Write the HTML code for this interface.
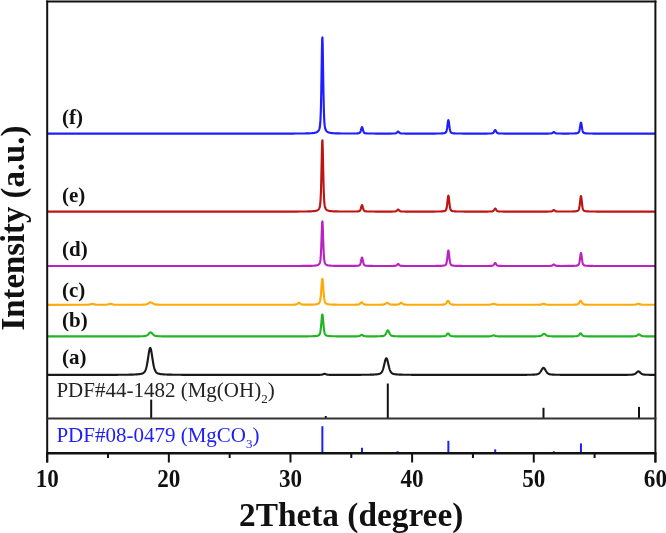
<!DOCTYPE html>
<html><head><meta charset="utf-8"><style>
html,body{margin:0;padding:0;background:#fff;}
svg{display:block;will-change:transform;filter:blur(0.4px);}
text{font-family:"Liberation Serif",serif;}
</style></head><body>
<svg width="666" height="533" viewBox="0 0 666 533">
<rect width="666" height="533" fill="#fff"/>
<g fill="none" stroke-width="2.15" stroke-linejoin="round" stroke-linecap="butt">
<path d="M47.20 133.60 L254.95 133.59 L274.70 133.58 L283.70 133.57 L289.20 133.56 L292.95 133.55 L295.70 133.53 L297.95 133.52 L299.70 133.51 L301.20 133.50 L302.45 133.48 L303.70 133.47 L304.70 133.45 L305.70 133.43 L306.45 133.42 L307.20 133.40 L307.95 133.38 L308.70 133.35 L309.45 133.32 L309.95 133.30 L310.45 133.28 L310.95 133.25 L311.45 133.21 L311.95 133.18 L312.45 133.13 L312.95 133.08 L313.45 133.02 L313.95 132.96 L314.45 132.87 L314.95 132.77 L315.45 132.65 L315.95 132.50 L316.20 132.41 L316.45 132.31 L316.70 132.20 L316.95 132.07 L317.20 131.93 L317.45 131.76 L317.70 131.56 L317.95 131.34 L318.20 131.07 L318.45 130.75 L318.70 130.38 L318.95 129.91 L319.20 129.34 L319.45 128.58 L319.70 127.55 L319.95 126.03 L320.20 123.70 L320.45 120.06 L320.70 114.46 L320.95 106.23 L321.20 94.92 L321.45 80.63 L321.70 64.44 L321.95 48.95 L322.20 38.51 L322.45 37.46 L322.70 46.33 L322.95 61.21 L323.20 77.53 L323.45 92.32 L323.70 104.25 L323.95 113.06 L324.20 119.13 L324.45 123.10 L324.70 125.65 L324.95 127.29 L325.20 128.41 L325.45 129.20 L325.70 129.81 L325.95 130.29 L326.20 130.68 L326.45 131.01 L326.70 131.28 L326.95 131.52 L327.20 131.72 L327.45 131.89 L327.70 132.04 L327.95 132.17 L328.20 132.29 L328.45 132.39 L328.95 132.56 L329.45 132.70 L329.95 132.81 L330.45 132.90 L330.95 132.98 L331.45 133.05 L331.95 133.10 L332.45 133.15 L332.95 133.19 L333.45 133.22 L333.95 133.25 L334.45 133.28 L334.95 133.31 L335.45 133.33 L335.95 133.35 L336.70 133.37 L337.45 133.39 L338.20 133.41 L338.95 133.43 L339.95 133.44 L340.95 133.46 L342.20 133.47 L343.70 133.49 L345.45 133.50 L348.20 133.51 L353.70 133.50 L354.95 133.48 L355.95 133.45 L356.70 133.43 L357.45 133.38 L357.95 133.34 L358.45 133.28 L358.70 133.24 L358.95 133.18 L359.20 133.10 L359.45 132.99 L359.70 132.82 L359.95 132.56 L360.20 132.20 L360.45 131.68 L360.70 131.01 L360.95 130.17 L361.20 129.22 L361.45 128.26 L361.70 127.47 L361.95 127.08 L362.20 127.24 L362.45 127.88 L362.70 128.80 L362.95 129.77 L363.20 130.67 L363.45 131.42 L363.70 132.00 L363.95 132.43 L364.20 132.72 L364.45 132.93 L364.70 133.06 L364.95 133.16 L365.20 133.22 L365.45 133.27 L365.95 133.34 L366.45 133.39 L366.95 133.42 L367.45 133.45 L367.95 133.47 L368.70 133.49 L369.45 133.51 L370.45 133.52 L371.70 133.54 L373.45 133.55 L376.20 133.56 L383.20 133.57 L390.45 133.56 L392.20 133.54 L393.20 133.53 L393.95 133.51 L394.70 133.47 L395.45 133.38 L395.70 133.32 L395.95 133.24 L396.20 133.13 L396.45 132.98 L396.70 132.78 L396.95 132.55 L397.45 132.02 L397.70 131.78 L397.95 131.62 L398.20 131.59 L398.45 131.70 L398.70 131.91 L399.20 132.44 L399.45 132.68 L399.70 132.89 L399.95 133.06 L400.20 133.19 L400.45 133.29 L400.70 133.36 L400.95 133.40 L401.45 133.46 L401.95 133.49 L402.45 133.51 L403.20 133.53 L404.20 133.55 L405.45 133.56 L407.70 133.57 L416.45 133.58 L429.70 133.57 L433.20 133.56 L435.45 133.55 L436.95 133.53 L438.20 133.52 L439.20 133.50 L439.95 133.48 L440.70 133.46 L441.45 133.43 L441.95 133.40 L442.45 133.37 L442.95 133.33 L443.45 133.28 L443.95 133.20 L444.45 133.10 L444.70 133.04 L444.95 132.96 L445.20 132.85 L445.45 132.71 L445.70 132.51 L445.95 132.22 L446.20 131.78 L446.45 131.13 L446.70 130.21 L446.95 128.97 L447.20 127.38 L447.45 125.49 L447.70 123.47 L447.95 121.61 L448.20 120.36 L448.45 120.16 L448.70 121.08 L448.95 122.78 L449.20 124.79 L449.45 126.74 L449.70 128.45 L449.95 129.82 L450.20 130.85 L450.45 131.58 L450.70 132.08 L450.95 132.42 L451.20 132.65 L451.45 132.81 L451.70 132.93 L451.95 133.01 L452.20 133.08 L452.70 133.19 L453.20 133.26 L453.70 133.32 L454.20 133.36 L454.70 133.40 L455.20 133.43 L455.70 133.45 L456.20 133.46 L456.95 133.49 L457.70 133.50 L458.70 133.52 L459.95 133.53 L461.45 133.55 L463.45 133.56 L466.70 133.57 L486.70 133.56 L488.20 133.54 L489.20 133.52 L489.95 133.50 L490.70 133.47 L491.45 133.42 L491.95 133.37 L492.20 133.32 L492.45 133.26 L492.70 133.16 L492.95 133.03 L493.20 132.85 L493.45 132.61 L493.70 132.29 L493.95 131.90 L494.20 131.45 L494.45 130.98 L494.70 130.54 L494.95 130.21 L495.20 130.09 L495.45 130.21 L495.70 130.54 L495.95 130.98 L496.20 131.45 L496.45 131.90 L496.70 132.29 L496.95 132.61 L497.20 132.85 L497.45 133.03 L497.70 133.16 L497.95 133.26 L498.20 133.32 L498.45 133.37 L498.95 133.42 L499.45 133.46 L499.95 133.49 L500.45 133.50 L501.20 133.52 L501.95 133.54 L502.95 133.55 L504.45 133.56 L506.95 133.58 L512.70 133.59 L545.95 133.57 L547.95 133.56 L549.20 133.54 L550.20 133.51 L550.95 133.46 L551.20 133.43 L551.45 133.38 L551.70 133.32 L551.95 133.23 L552.20 133.11 L552.45 132.95 L552.70 132.77 L553.20 132.38 L553.45 132.20 L553.70 132.10 L553.95 132.10 L554.20 132.20 L554.45 132.37 L554.95 132.76 L555.20 132.95 L555.45 133.10 L555.70 133.22 L555.95 133.31 L556.20 133.38 L556.45 133.42 L556.95 133.48 L557.45 133.51 L557.95 133.52 L558.70 133.54 L559.95 133.55 L562.95 133.56 L568.20 133.55 L569.95 133.54 L571.20 133.53 L572.20 133.51 L573.20 133.49 L573.95 133.46 L574.70 133.43 L575.20 133.40 L575.70 133.37 L576.20 133.32 L576.70 133.25 L577.20 133.16 L577.45 133.10 L577.70 133.03 L577.95 132.92 L578.20 132.78 L578.45 132.57 L578.70 132.26 L578.95 131.80 L579.20 131.13 L579.45 130.21 L579.70 129.02 L579.95 127.55 L580.20 125.92 L580.45 124.32 L580.70 123.09 L580.95 122.60 L581.20 123.04 L581.45 124.25 L581.70 125.84 L581.95 127.47 L582.20 128.95 L582.45 130.16 L582.70 131.09 L582.95 131.77 L583.20 132.24 L583.45 132.56 L583.70 132.77 L583.95 132.92 L584.20 133.02 L584.45 133.10 L584.70 133.16 L585.20 133.25 L585.70 133.32 L586.20 133.37 L586.70 133.40 L587.20 133.43 L587.70 133.46 L588.20 133.47 L588.95 133.50 L589.70 133.51 L590.70 133.53 L591.95 133.54 L593.45 133.56 L595.70 133.57 L599.20 133.58 L606.95 133.59 L655.20 133.60" stroke="#1e1eff"/>
<path d="M47.20 211.60 L263.45 211.59 L280.95 211.58 L288.95 211.57 L293.70 211.56 L296.95 211.55 L299.45 211.53 L301.45 211.52 L302.95 211.51 L304.45 211.49 L305.70 211.48 L306.70 211.46 L307.70 211.44 L308.45 211.42 L309.20 211.40 L309.95 211.38 L310.70 211.35 L311.20 211.33 L311.70 211.30 L312.20 211.27 L312.70 211.24 L313.20 211.19 L313.70 211.15 L314.20 211.09 L314.70 211.02 L315.20 210.94 L315.70 210.84 L316.20 210.72 L316.70 210.56 L316.95 210.46 L317.20 210.36 L317.45 210.23 L317.70 210.09 L317.95 209.92 L318.20 209.72 L318.45 209.49 L318.70 209.21 L318.95 208.86 L319.20 208.43 L319.45 207.88 L319.70 207.11 L319.95 205.98 L320.20 204.25 L320.45 201.55 L320.70 197.39 L320.95 191.29 L321.20 182.89 L321.45 172.28 L321.70 160.26 L321.95 148.77 L322.20 141.01 L322.45 140.24 L322.70 146.82 L322.95 157.87 L323.20 169.98 L323.45 180.96 L323.70 189.81 L323.95 196.36 L324.20 200.86 L324.45 203.81 L324.70 205.70 L324.95 206.92 L325.20 207.74 L325.45 208.34 L325.70 208.79 L325.95 209.14 L326.20 209.43 L326.45 209.68 L326.70 209.88 L326.95 210.05 L327.20 210.20 L327.45 210.33 L327.70 210.44 L327.95 210.54 L328.45 210.70 L328.95 210.83 L329.45 210.93 L329.95 211.01 L330.45 211.08 L330.95 211.14 L331.45 211.19 L331.95 211.23 L332.45 211.26 L332.95 211.29 L333.45 211.32 L333.95 211.34 L334.45 211.36 L335.20 211.39 L335.95 211.41 L336.70 211.43 L337.45 211.44 L338.45 211.46 L339.45 211.47 L340.70 211.49 L342.20 211.50 L343.95 211.51 L346.70 211.52 L353.45 211.51 L354.70 211.49 L355.70 211.47 L356.45 211.45 L357.20 211.41 L357.70 211.37 L358.20 211.32 L358.70 211.24 L358.95 211.19 L359.20 211.11 L359.45 210.99 L359.70 210.82 L359.95 210.57 L360.20 210.20 L360.45 209.69 L360.70 209.02 L360.95 208.18 L361.20 207.23 L361.45 206.27 L361.70 205.48 L361.95 205.09 L362.20 205.25 L362.45 205.89 L362.70 206.80 L362.95 207.78 L363.20 208.67 L363.45 209.42 L363.70 210.00 L363.95 210.43 L364.20 210.73 L364.45 210.93 L364.70 211.07 L364.95 211.16 L365.20 211.23 L365.45 211.28 L365.95 211.35 L366.45 211.39 L366.95 211.43 L367.45 211.45 L367.95 211.47 L368.70 211.50 L369.45 211.51 L370.45 211.53 L371.70 211.54 L373.45 211.55 L376.20 211.56 L391.70 211.55 L392.95 211.53 L393.95 211.51 L394.70 211.47 L395.45 211.38 L395.70 211.32 L395.95 211.24 L396.20 211.13 L396.45 210.98 L396.70 210.78 L396.95 210.55 L397.45 210.02 L397.70 209.78 L397.95 209.62 L398.20 209.59 L398.45 209.70 L398.70 209.91 L399.20 210.44 L399.45 210.68 L399.70 210.90 L399.95 211.07 L400.20 211.20 L400.45 211.29 L400.70 211.36 L400.95 211.41 L401.45 211.46 L401.95 211.49 L402.45 211.51 L403.20 211.53 L404.20 211.55 L405.45 211.56 L407.70 211.57 L431.70 211.56 L434.20 211.55 L435.95 211.53 L437.20 211.52 L438.20 211.50 L439.20 211.48 L439.95 211.46 L440.70 211.44 L441.45 211.40 L441.95 211.37 L442.45 211.33 L442.95 211.28 L443.45 211.22 L443.95 211.13 L444.20 211.08 L444.45 211.01 L444.70 210.94 L444.95 210.84 L445.20 210.72 L445.45 210.55 L445.70 210.31 L445.95 209.96 L446.20 209.44 L446.45 208.68 L446.70 207.59 L446.95 206.11 L447.20 204.23 L447.45 201.99 L447.70 199.59 L447.95 197.39 L448.20 195.91 L448.45 195.67 L448.70 196.76 L448.95 198.77 L449.20 201.16 L449.45 203.48 L449.70 205.50 L449.95 207.12 L450.20 208.34 L450.45 209.21 L450.70 209.80 L450.95 210.21 L451.20 210.48 L451.45 210.67 L451.70 210.80 L451.95 210.91 L452.20 210.99 L452.45 211.06 L452.95 211.16 L453.45 211.24 L453.95 211.30 L454.45 211.34 L454.95 211.38 L455.45 211.41 L455.95 211.43 L456.45 211.45 L457.20 211.47 L457.95 211.49 L458.70 211.51 L459.70 211.52 L460.95 211.53 L462.45 211.55 L464.70 211.56 L468.20 211.57 L487.20 211.56 L488.70 211.54 L489.70 211.52 L490.45 211.50 L491.20 211.46 L491.70 211.43 L491.95 211.40 L492.20 211.36 L492.45 211.30 L492.70 211.22 L492.95 211.11 L493.20 210.96 L493.45 210.75 L493.70 210.47 L493.95 210.14 L494.20 209.76 L494.45 209.35 L494.70 208.98 L494.95 208.70 L495.20 208.59 L495.45 208.70 L495.70 208.98 L495.95 209.35 L496.20 209.76 L496.45 210.14 L496.70 210.47 L496.95 210.75 L497.20 210.96 L497.45 211.11 L497.70 211.23 L497.95 211.30 L498.20 211.36 L498.45 211.40 L498.95 211.45 L499.45 211.48 L499.95 211.50 L500.70 211.52 L501.45 211.54 L502.45 211.55 L503.95 211.57 L506.45 211.58 L512.70 211.59 L545.20 211.58 L547.45 211.56 L548.70 211.55 L549.70 211.53 L550.45 211.50 L551.20 211.43 L551.45 211.38 L551.70 211.31 L551.95 211.22 L552.20 211.10 L552.45 210.95 L552.70 210.77 L553.20 210.37 L553.45 210.20 L553.70 210.10 L553.95 210.10 L554.20 210.19 L554.45 210.36 L554.95 210.76 L555.20 210.94 L555.45 211.09 L555.70 211.21 L555.95 211.31 L556.20 211.37 L556.45 211.42 L556.95 211.47 L557.45 211.50 L557.95 211.52 L558.70 211.54 L559.95 211.55 L568.20 211.54 L569.70 211.52 L570.95 211.50 L571.95 211.48 L572.70 211.46 L573.45 211.43 L574.20 211.40 L574.70 211.37 L575.20 211.33 L575.70 211.27 L576.20 211.21 L576.70 211.12 L576.95 211.06 L577.20 210.99 L577.45 210.90 L577.70 210.79 L577.95 210.65 L578.20 210.44 L578.45 210.15 L578.70 209.71 L578.95 209.06 L579.20 208.13 L579.45 206.83 L579.70 205.14 L579.95 203.08 L580.20 200.78 L580.45 198.53 L580.70 196.79 L580.95 196.10 L581.20 196.72 L581.45 198.43 L581.70 200.67 L581.95 202.97 L582.20 205.05 L582.45 206.76 L582.70 208.07 L582.95 209.02 L583.20 209.69 L583.45 210.13 L583.70 210.43 L583.95 210.64 L584.20 210.79 L584.45 210.90 L584.70 210.98 L584.95 211.06 L585.45 211.16 L585.95 211.24 L586.45 211.30 L586.95 211.35 L587.45 211.38 L587.95 211.41 L588.45 211.44 L588.95 211.46 L589.70 211.48 L590.45 211.50 L591.20 211.51 L592.20 211.53 L593.45 211.54 L594.95 211.55 L597.20 211.56 L600.45 211.57 L606.45 211.58 L625.95 211.59 L655.20 211.60" stroke="#bd1414"/>
<path d="M47.20 266.00 L274.70 265.99 L289.20 265.98 L295.70 265.97 L299.70 265.96 L302.45 265.94 L304.45 265.93 L305.95 265.92 L307.20 265.91 L308.45 265.89 L309.45 265.87 L310.20 265.85 L310.95 265.83 L311.70 265.81 L312.45 265.78 L312.95 265.76 L313.45 265.73 L313.95 265.70 L314.45 265.66 L314.95 265.61 L315.45 265.56 L315.95 265.49 L316.45 265.40 L316.95 265.29 L317.20 265.22 L317.45 265.14 L317.70 265.05 L317.95 264.95 L318.20 264.82 L318.45 264.68 L318.70 264.50 L318.95 264.29 L319.20 264.02 L319.45 263.67 L319.70 263.19 L319.95 262.49 L320.20 261.41 L320.45 259.72 L320.70 257.12 L320.95 253.30 L321.20 248.05 L321.45 241.42 L321.70 233.91 L321.95 226.73 L322.20 221.88 L322.45 221.40 L322.70 225.51 L322.95 232.41 L323.20 239.98 L323.45 246.85 L323.70 252.38 L323.95 256.47 L324.20 259.28 L324.45 261.13 L324.70 262.31 L324.95 263.07 L325.20 263.59 L325.45 263.96 L325.70 264.24 L325.95 264.46 L326.20 264.64 L326.45 264.80 L326.70 264.92 L326.95 265.03 L327.20 265.12 L327.45 265.20 L327.95 265.34 L328.45 265.44 L328.95 265.52 L329.45 265.58 L329.95 265.63 L330.45 265.67 L330.95 265.71 L331.45 265.74 L331.95 265.76 L332.45 265.79 L332.95 265.80 L333.70 265.83 L334.45 265.85 L335.20 265.86 L336.20 265.88 L337.20 265.89 L338.45 265.91 L339.95 265.92 L342.20 265.93 L352.70 265.92 L353.95 265.90 L354.95 265.88 L355.70 265.85 L356.45 265.82 L356.95 265.79 L357.45 265.75 L357.95 265.69 L358.45 265.61 L358.70 265.55 L358.95 265.48 L359.20 265.37 L359.45 265.22 L359.70 265.00 L359.95 264.67 L360.20 264.19 L360.45 263.52 L360.70 262.64 L360.95 261.54 L361.20 260.30 L361.45 259.04 L361.70 258.01 L361.95 257.50 L362.20 257.71 L362.45 258.55 L362.70 259.74 L362.95 261.02 L363.20 262.19 L363.45 263.17 L363.70 263.93 L363.95 264.49 L364.20 264.88 L364.45 265.14 L364.70 265.32 L364.95 265.44 L365.20 265.53 L365.45 265.59 L365.95 265.68 L366.45 265.74 L366.95 265.79 L367.45 265.82 L367.95 265.85 L368.45 265.87 L369.20 265.89 L369.95 265.91 L370.95 265.92 L372.20 265.94 L373.70 265.95 L375.95 265.96 L380.70 265.97 L390.70 265.96 L392.20 265.95 L393.20 265.93 L393.95 265.91 L394.70 265.87 L395.45 265.78 L395.70 265.72 L395.95 265.64 L396.20 265.53 L396.45 265.38 L396.70 265.19 L396.95 264.95 L397.45 264.42 L397.70 264.18 L397.95 264.03 L398.20 263.99 L398.45 264.10 L398.70 264.31 L399.20 264.84 L399.45 265.09 L399.70 265.30 L399.95 265.47 L400.20 265.60 L400.45 265.69 L400.70 265.76 L400.95 265.81 L401.45 265.86 L401.95 265.90 L402.45 265.91 L403.20 265.93 L404.20 265.95 L405.45 265.96 L407.70 265.97 L431.95 265.96 L434.45 265.95 L436.20 265.93 L437.45 265.92 L438.45 265.90 L439.45 265.88 L440.20 265.86 L440.95 265.83 L441.45 265.81 L441.95 265.78 L442.45 265.74 L442.95 265.69 L443.45 265.63 L443.95 265.55 L444.45 265.43 L444.70 265.36 L444.95 265.27 L445.20 265.15 L445.45 264.98 L445.70 264.75 L445.95 264.42 L446.20 263.91 L446.45 263.17 L446.70 262.12 L446.95 260.68 L447.20 258.86 L447.45 256.69 L447.70 254.37 L447.95 252.23 L448.20 250.80 L448.45 250.57 L448.70 251.62 L448.95 253.58 L449.20 255.88 L449.45 258.13 L449.70 260.09 L449.95 261.66 L450.20 262.84 L450.45 263.68 L450.70 264.26 L450.95 264.65 L451.20 264.91 L451.45 265.10 L451.70 265.23 L451.95 265.33 L452.20 265.41 L452.45 265.48 L452.95 265.58 L453.45 265.65 L453.95 265.71 L454.45 265.75 L454.95 265.79 L455.45 265.81 L455.95 265.84 L456.45 265.86 L457.20 265.88 L457.95 265.90 L458.95 265.91 L459.95 265.93 L461.20 265.94 L462.95 265.95 L465.45 265.96 L469.70 265.97 L486.70 265.96 L488.20 265.95 L489.20 265.93 L490.20 265.91 L490.95 265.88 L491.70 265.83 L491.95 265.80 L492.20 265.76 L492.45 265.70 L492.70 265.63 L492.95 265.51 L493.20 265.36 L493.45 265.15 L493.70 264.88 L493.95 264.54 L494.20 264.16 L494.45 263.75 L494.70 263.38 L494.95 263.10 L495.20 262.99 L495.45 263.10 L495.70 263.38 L495.95 263.75 L496.20 264.16 L496.45 264.54 L496.70 264.88 L496.95 265.15 L497.20 265.36 L497.45 265.51 L497.70 265.63 L497.95 265.70 L498.20 265.76 L498.45 265.80 L498.95 265.85 L499.45 265.88 L499.95 265.90 L500.70 265.92 L501.45 265.94 L502.45 265.95 L503.95 265.97 L506.45 265.98 L512.70 265.99 L545.45 265.98 L547.70 265.96 L548.95 265.95 L549.95 265.92 L550.70 265.88 L551.45 265.78 L551.70 265.71 L551.95 265.62 L552.20 265.50 L552.45 265.35 L552.70 265.17 L553.20 264.77 L553.45 264.60 L553.70 264.50 L553.95 264.50 L554.20 264.60 L554.45 264.76 L554.95 265.16 L555.20 265.34 L555.45 265.50 L555.70 265.62 L555.95 265.71 L556.20 265.77 L556.45 265.82 L556.95 265.88 L557.45 265.91 L557.95 265.92 L558.70 265.94 L559.95 265.95 L569.20 265.94 L570.70 265.92 L571.70 265.91 L572.70 265.88 L573.45 265.86 L574.20 265.83 L574.70 265.80 L575.20 265.77 L575.70 265.73 L576.20 265.67 L576.70 265.59 L577.20 265.49 L577.45 265.41 L577.70 265.32 L577.95 265.20 L578.20 265.03 L578.45 264.78 L578.70 264.42 L578.95 263.87 L579.20 263.09 L579.45 262.00 L579.70 260.58 L579.95 258.86 L580.20 256.93 L580.45 255.04 L580.70 253.58 L580.95 253.00 L581.20 253.52 L581.45 254.95 L581.70 256.83 L581.95 258.76 L582.20 260.50 L582.45 261.94 L582.70 263.04 L582.95 263.84 L583.20 264.39 L583.45 264.77 L583.70 265.02 L583.95 265.19 L584.20 265.32 L584.45 265.41 L584.70 265.48 L585.20 265.59 L585.70 265.67 L586.20 265.73 L586.70 265.77 L587.20 265.80 L587.70 265.83 L588.20 265.85 L588.70 265.87 L589.45 265.89 L590.20 265.91 L591.20 265.92 L592.45 265.94 L593.95 265.95 L595.95 265.96 L599.20 265.98 L605.20 265.99 L627.45 266.00 L655.20 266.00" stroke="#b923bf"/>
<path d="M47.20 304.80 L78.95 304.79 L83.20 304.78 L85.20 304.76 L86.45 304.75 L87.45 304.73 L88.20 304.69 L88.70 304.65 L89.20 304.58 L89.70 304.49 L90.20 304.35 L90.70 304.18 L91.20 304.00 L91.45 303.92 L91.70 303.85 L91.95 303.81 L92.20 303.79 L92.45 303.81 L92.70 303.85 L92.95 303.92 L93.45 304.09 L93.95 304.26 L94.45 304.42 L94.95 304.53 L95.45 304.61 L95.95 304.67 L96.45 304.70 L96.95 304.72 L97.70 304.74 L98.70 304.75 L105.20 304.73 L105.95 304.71 L106.70 304.67 L107.20 304.61 L107.70 304.53 L108.20 304.42 L108.70 304.27 L109.20 304.09 L109.70 303.92 L109.95 303.85 L110.20 303.81 L110.45 303.79 L110.70 303.81 L110.95 303.85 L111.20 303.92 L111.70 304.09 L112.20 304.26 L112.70 304.42 L113.20 304.53 L113.70 304.61 L114.20 304.67 L114.70 304.70 L115.20 304.72 L115.95 304.74 L116.95 304.75 L118.45 304.76 L121.70 304.78 L135.45 304.76 L137.95 304.75 L139.70 304.74 L140.95 304.72 L141.95 304.70 L142.70 304.69 L143.45 304.66 L144.20 304.63 L144.70 304.59 L145.20 304.54 L145.70 304.47 L146.20 304.37 L146.45 304.31 L146.70 304.23 L146.95 304.15 L147.20 304.05 L147.45 303.94 L147.70 303.81 L147.95 303.67 L148.45 303.36 L148.95 303.03 L149.45 302.70 L149.70 302.56 L149.95 302.44 L150.20 302.35 L150.45 302.30 L150.70 302.30 L150.95 302.34 L151.20 302.42 L151.45 302.54 L151.70 302.68 L152.20 303.00 L152.70 303.34 L153.20 303.65 L153.45 303.79 L153.70 303.92 L153.95 304.03 L154.20 304.13 L154.45 304.22 L154.70 304.30 L155.20 304.42 L155.70 304.51 L156.20 304.57 L156.70 304.61 L157.20 304.64 L157.70 304.66 L158.45 304.69 L159.20 304.71 L160.20 304.72 L161.20 304.74 L162.45 304.75 L164.20 304.76 L166.70 304.77 L171.20 304.78 L182.95 304.79 L280.70 304.78 L286.20 304.77 L289.20 304.76 L290.95 304.74 L292.20 304.73 L293.20 304.71 L293.95 304.69 L294.70 304.66 L295.45 304.59 L295.70 304.56 L295.95 304.51 L296.20 304.45 L296.45 304.36 L296.70 304.26 L296.95 304.13 L297.20 303.97 L297.45 303.79 L297.70 303.58 L298.20 303.15 L298.45 302.96 L298.70 302.83 L298.95 302.76 L299.20 302.79 L299.45 302.90 L299.70 303.08 L300.20 303.50 L300.45 303.71 L300.70 303.90 L300.95 304.06 L301.20 304.20 L301.45 304.31 L301.70 304.40 L301.95 304.47 L302.20 304.52 L302.70 304.59 L303.20 304.62 L303.70 304.65 L304.45 304.67 L305.45 304.68 L309.45 304.66 L310.45 304.65 L311.20 304.63 L311.95 304.61 L312.70 304.58 L313.45 304.55 L313.95 304.52 L314.45 304.49 L314.95 304.45 L315.45 304.40 L315.95 304.34 L316.45 304.26 L316.95 304.16 L317.45 304.04 L317.70 303.96 L317.95 303.87 L318.20 303.76 L318.45 303.63 L318.70 303.47 L318.95 303.26 L319.20 302.98 L319.45 302.59 L319.70 302.04 L319.95 301.26 L320.20 300.15 L320.45 298.61 L320.70 296.58 L320.95 294.01 L321.20 290.93 L321.45 287.49 L321.70 284.01 L321.95 281.00 L322.20 279.12 L322.45 278.94 L322.70 280.51 L322.95 283.36 L323.20 286.79 L323.45 290.27 L323.70 293.44 L323.95 296.12 L324.20 298.25 L324.45 299.88 L324.70 301.07 L324.95 301.91 L325.20 302.50 L325.45 302.91 L325.70 303.21 L325.95 303.43 L326.20 303.60 L326.45 303.74 L326.70 303.85 L326.95 303.94 L327.20 304.02 L327.70 304.15 L328.20 304.25 L328.70 304.33 L329.20 304.40 L329.70 304.45 L330.20 304.49 L330.70 304.52 L331.20 304.55 L331.70 304.58 L332.20 304.60 L332.95 304.62 L333.70 304.64 L334.45 304.66 L335.20 304.68 L336.20 304.69 L337.45 304.71 L338.95 304.72 L340.70 304.73 L343.45 304.74 L353.70 304.73 L354.95 304.71 L355.95 304.69 L356.70 304.67 L357.45 304.63 L357.95 304.58 L358.20 304.54 L358.45 304.49 L358.70 304.42 L358.95 304.33 L359.20 304.22 L359.45 304.07 L359.70 303.90 L359.95 303.69 L360.20 303.45 L360.70 302.92 L360.95 302.66 L361.20 302.45 L361.45 302.31 L361.70 302.28 L361.95 302.37 L362.20 302.54 L362.45 302.78 L362.95 303.32 L363.20 303.57 L363.45 303.79 L363.70 303.99 L363.95 304.15 L364.20 304.28 L364.45 304.38 L364.70 304.46 L364.95 304.51 L365.20 304.56 L365.70 304.62 L366.20 304.65 L366.70 304.67 L367.45 304.70 L368.20 304.71 L369.20 304.73 L370.70 304.74 L379.45 304.73 L380.45 304.71 L381.45 304.69 L382.20 304.66 L382.70 304.62 L383.20 304.57 L383.45 304.53 L383.70 304.48 L383.95 304.42 L384.20 304.35 L384.45 304.26 L384.70 304.15 L384.95 304.03 L385.20 303.88 L385.45 303.72 L385.95 303.36 L386.20 303.19 L386.45 303.02 L386.70 302.89 L386.95 302.80 L387.20 302.78 L387.45 302.81 L387.70 302.90 L387.95 303.04 L388.20 303.21 L388.70 303.56 L388.95 303.74 L389.20 303.89 L389.45 304.04 L389.70 304.16 L389.95 304.27 L390.20 304.35 L390.45 304.42 L390.70 304.48 L391.20 304.56 L391.70 304.61 L392.20 304.64 L392.70 304.66 L393.45 304.68 L396.70 304.65 L397.45 304.60 L397.95 304.54 L398.20 304.49 L398.45 304.42 L398.70 304.33 L398.95 304.22 L399.20 304.09 L399.45 303.92 L399.70 303.73 L400.20 303.31 L400.45 303.10 L400.70 302.93 L400.95 302.81 L401.20 302.78 L401.45 302.83 L401.70 302.96 L401.95 303.15 L402.45 303.58 L402.70 303.78 L402.95 303.97 L403.20 304.13 L403.45 304.26 L403.70 304.37 L403.95 304.45 L404.20 304.52 L404.45 304.56 L404.95 304.63 L405.45 304.67 L405.95 304.69 L406.70 304.71 L407.45 304.73 L408.45 304.74 L409.95 304.76 L412.20 304.77 L417.20 304.78 L434.70 304.77 L437.20 304.75 L438.70 304.74 L439.95 304.73 L440.95 304.71 L441.70 304.68 L442.45 304.65 L442.95 304.63 L443.45 304.59 L443.95 304.53 L444.20 304.49 L444.45 304.44 L444.70 304.37 L444.95 304.28 L445.20 304.15 L445.45 303.99 L445.70 303.78 L445.95 303.52 L446.20 303.21 L446.45 302.85 L446.70 302.44 L446.95 302.01 L447.20 301.58 L447.45 301.20 L447.70 300.93 L447.95 300.80 L448.20 300.85 L448.45 301.07 L448.70 301.41 L448.95 301.82 L449.20 302.26 L449.45 302.68 L449.70 303.06 L449.95 303.39 L450.20 303.68 L450.45 303.91 L450.70 304.09 L450.95 304.23 L451.20 304.33 L451.45 304.41 L451.70 304.47 L451.95 304.52 L452.45 304.58 L452.95 304.62 L453.45 304.65 L453.95 304.67 L454.45 304.69 L455.20 304.71 L455.95 304.72 L456.95 304.74 L458.20 304.75 L459.95 304.76 L462.95 304.77 L470.45 304.78 L484.70 304.77 L486.95 304.76 L488.20 304.74 L489.20 304.71 L489.95 304.67 L490.45 304.61 L490.95 304.52 L491.45 304.40 L491.95 304.24 L492.45 304.06 L492.95 303.90 L493.20 303.84 L493.45 303.80 L493.70 303.80 L493.95 303.82 L494.20 303.87 L494.45 303.95 L494.95 304.12 L495.45 304.30 L495.95 304.44 L496.45 304.55 L496.95 304.63 L497.45 304.68 L497.95 304.71 L498.45 304.73 L499.20 304.75 L500.20 304.76 L501.70 304.77 L504.70 304.78 L535.70 304.77 L537.45 304.75 L538.45 304.73 L539.20 304.71 L539.95 304.65 L540.45 304.59 L540.95 304.49 L541.45 304.36 L541.95 304.20 L542.45 304.02 L542.70 303.93 L542.95 303.86 L543.20 303.82 L543.45 303.79 L543.70 303.81 L543.95 303.85 L544.20 303.91 L544.70 304.08 L545.20 304.26 L545.70 304.41 L546.20 304.53 L546.70 304.61 L547.20 304.67 L547.70 304.70 L548.20 304.72 L548.95 304.74 L549.95 304.76 L551.45 304.77 L554.70 304.78 L567.95 304.77 L570.20 304.75 L571.70 304.74 L572.70 304.72 L573.70 304.70 L574.45 304.68 L575.20 304.65 L575.70 304.62 L576.20 304.58 L576.70 304.51 L576.95 304.46 L577.20 304.40 L577.45 304.31 L577.70 304.20 L577.95 304.05 L578.20 303.86 L578.45 303.62 L578.70 303.33 L578.95 302.98 L579.20 302.59 L579.45 302.16 L579.70 301.73 L579.95 301.33 L580.20 301.01 L580.45 300.83 L580.70 300.81 L580.95 300.98 L581.20 301.28 L581.45 301.68 L581.70 302.11 L581.95 302.54 L582.20 302.93 L582.45 303.29 L582.70 303.59 L582.95 303.83 L583.20 304.03 L583.45 304.18 L583.70 304.30 L583.95 304.39 L584.20 304.46 L584.45 304.51 L584.95 304.57 L585.45 304.62 L585.95 304.65 L586.45 304.67 L586.95 304.69 L587.70 304.71 L588.45 304.73 L589.45 304.74 L590.70 304.75 L592.45 304.77 L595.20 304.78 L601.20 304.79 L629.95 304.77 L631.95 304.76 L633.20 304.74 L633.95 304.72 L634.70 304.67 L635.20 304.61 L635.70 304.53 L636.20 304.40 L636.70 304.25 L637.20 304.07 L637.70 303.90 L637.95 303.84 L638.20 303.81 L638.45 303.80 L638.70 303.82 L638.95 303.88 L639.20 303.95 L639.70 304.13 L640.20 304.30 L640.70 304.45 L641.20 304.56 L641.70 304.63 L642.20 304.68 L642.70 304.71 L643.20 304.73 L643.95 304.75 L644.95 304.76 L646.45 304.77 L649.45 304.79 L655.20 304.79" stroke="#ffaa0a"/>
<path d="M47.20 336.40 L117.95 336.39 L127.45 336.38 L131.95 336.37 L134.70 336.35 L136.70 336.34 L138.20 336.33 L139.45 336.31 L140.45 336.29 L141.20 336.27 L141.95 336.25 L142.70 336.22 L143.45 336.19 L143.95 336.15 L144.45 336.10 L144.95 336.04 L145.45 335.94 L145.70 335.88 L145.95 335.81 L146.20 335.72 L146.45 335.62 L146.70 335.50 L146.95 335.36 L147.20 335.20 L147.45 335.02 L147.70 334.82 L147.95 334.60 L148.20 334.36 L148.45 334.11 L148.95 333.57 L149.20 333.30 L149.45 333.05 L149.70 332.82 L149.95 332.62 L150.20 332.49 L150.45 332.41 L150.70 332.41 L150.95 332.47 L151.20 332.60 L151.45 332.78 L151.70 333.01 L151.95 333.26 L152.45 333.80 L152.70 334.07 L152.95 334.32 L153.20 334.56 L153.45 334.79 L153.70 334.99 L153.95 335.18 L154.20 335.34 L154.45 335.48 L154.70 335.60 L154.95 335.71 L155.20 335.80 L155.45 335.87 L155.70 335.93 L156.20 336.03 L156.70 336.10 L157.20 336.15 L157.70 336.18 L158.20 336.21 L158.70 336.23 L159.20 336.25 L159.95 336.27 L160.70 336.29 L161.70 336.31 L162.70 336.32 L163.95 336.33 L165.45 336.35 L167.45 336.36 L170.45 336.37 L175.45 336.38 L187.45 336.39 L292.45 336.38 L298.70 336.37 L302.20 336.36 L304.70 336.35 L306.45 336.33 L307.95 336.32 L309.20 336.30 L310.20 336.29 L311.20 336.27 L311.95 336.25 L312.70 336.22 L313.45 336.19 L313.95 336.17 L314.45 336.14 L314.95 336.11 L315.45 336.06 L315.95 336.01 L316.45 335.95 L316.95 335.86 L317.45 335.76 L317.70 335.69 L317.95 335.61 L318.20 335.52 L318.45 335.41 L318.70 335.27 L318.95 335.10 L319.20 334.86 L319.45 334.54 L319.70 334.07 L319.95 333.41 L320.20 332.47 L320.45 331.17 L320.70 329.45 L320.95 327.27 L321.20 324.66 L321.45 321.76 L321.70 318.81 L321.95 316.26 L322.20 314.67 L322.45 314.52 L322.70 315.85 L322.95 318.26 L323.20 321.17 L323.45 324.11 L323.70 326.79 L323.95 329.05 L324.20 330.86 L324.45 332.24 L324.70 333.24 L324.95 333.96 L325.20 334.46 L325.45 334.81 L325.70 335.06 L325.95 335.24 L326.20 335.39 L326.45 335.50 L326.70 335.60 L326.95 335.68 L327.45 335.80 L327.95 335.90 L328.45 335.97 L328.95 336.03 L329.45 336.08 L329.95 336.12 L330.45 336.15 L330.95 336.18 L331.45 336.20 L331.95 336.22 L332.70 336.24 L333.45 336.26 L334.20 336.28 L335.20 336.30 L336.20 336.31 L337.45 336.32 L339.20 336.33 L341.45 336.35 L345.45 336.36 L354.20 336.34 L355.70 336.33 L356.70 336.31 L357.45 336.28 L358.20 336.23 L358.70 336.16 L358.95 336.11 L359.20 336.04 L359.45 335.95 L359.70 335.85 L359.95 335.72 L360.20 335.58 L360.70 335.26 L360.95 335.10 L361.20 334.97 L361.45 334.89 L361.70 334.88 L361.95 334.93 L362.20 335.03 L362.45 335.17 L362.95 335.49 L363.20 335.65 L363.45 335.78 L363.70 335.90 L363.95 335.99 L364.20 336.07 L364.45 336.13 L364.70 336.18 L365.20 336.24 L365.70 336.27 L366.20 336.29 L366.95 336.31 L367.95 336.32 L369.70 336.34 L375.20 336.32 L376.70 336.31 L377.70 336.29 L378.70 336.27 L379.45 336.25 L380.20 336.22 L380.95 336.19 L381.45 336.16 L381.95 336.12 L382.45 336.07 L382.95 335.99 L383.20 335.94 L383.45 335.88 L383.70 335.80 L383.95 335.70 L384.20 335.57 L384.45 335.41 L384.70 335.21 L384.95 334.96 L385.20 334.66 L385.45 334.30 L385.70 333.89 L385.95 333.43 L386.20 332.92 L386.45 332.38 L386.70 331.84 L386.95 331.33 L387.20 330.89 L387.45 330.57 L387.70 330.40 L387.95 330.43 L388.20 330.64 L388.45 331.00 L388.70 331.46 L388.95 331.98 L389.20 332.53 L389.45 333.06 L389.70 333.55 L389.95 334.00 L390.20 334.40 L390.45 334.74 L390.70 335.03 L390.95 335.27 L391.20 335.46 L391.45 335.61 L391.70 335.73 L391.95 335.83 L392.20 335.90 L392.45 335.96 L392.95 336.05 L393.45 336.11 L393.95 336.15 L394.45 336.18 L394.95 336.21 L395.45 336.23 L395.95 336.25 L396.70 336.27 L397.45 336.29 L398.45 336.31 L399.45 336.32 L400.70 336.34 L402.45 336.35 L404.70 336.36 L408.20 336.37 L415.70 336.38 L435.95 336.37 L438.45 336.36 L439.95 336.34 L440.95 336.33 L441.95 336.30 L442.70 336.28 L443.45 336.24 L443.95 336.20 L444.45 336.13 L444.70 336.07 L444.95 336.00 L445.20 335.91 L445.45 335.79 L445.70 335.63 L445.95 335.44 L446.20 335.21 L446.45 334.93 L446.70 334.63 L446.95 334.31 L447.20 333.99 L447.45 333.70 L447.70 333.49 L447.95 333.40 L448.20 333.44 L448.45 333.60 L448.70 333.86 L448.95 334.17 L449.20 334.49 L449.45 334.81 L449.70 335.09 L449.95 335.34 L450.20 335.56 L450.45 335.73 L450.70 335.86 L450.95 335.97 L451.20 336.05 L451.45 336.11 L451.70 336.15 L452.20 336.21 L452.70 336.25 L453.20 336.28 L453.70 336.29 L454.45 336.32 L455.20 336.33 L456.20 336.34 L457.45 336.36 L459.45 336.37 L463.20 336.38 L485.95 336.37 L487.45 336.35 L488.45 336.34 L489.20 336.31 L489.95 336.26 L490.45 336.21 L490.95 336.12 L491.45 336.00 L491.95 335.84 L492.45 335.66 L492.95 335.50 L493.20 335.44 L493.45 335.40 L493.70 335.40 L493.95 335.42 L494.20 335.47 L494.45 335.55 L494.95 335.72 L495.45 335.90 L495.95 336.04 L496.45 336.15 L496.95 336.23 L497.45 336.28 L497.95 336.31 L498.45 336.33 L499.20 336.34 L500.20 336.36 L501.70 336.37 L504.70 336.38 L529.70 336.37 L532.20 336.36 L533.95 336.34 L535.20 336.33 L536.20 336.31 L536.95 336.29 L537.70 336.27 L538.45 336.23 L538.95 336.19 L539.45 336.13 L539.95 336.05 L540.20 335.99 L540.45 335.92 L540.70 335.83 L540.95 335.73 L541.20 335.61 L541.45 335.48 L541.70 335.33 L541.95 335.16 L542.45 334.79 L542.95 334.41 L543.20 334.23 L543.45 334.08 L543.70 333.97 L543.95 333.91 L544.20 333.90 L544.45 333.95 L544.70 334.05 L544.95 334.20 L545.20 334.37 L545.70 334.75 L546.20 335.13 L546.45 335.29 L546.70 335.45 L546.95 335.59 L547.20 335.71 L547.45 335.81 L547.70 335.90 L547.95 335.97 L548.20 336.03 L548.70 336.12 L549.20 336.19 L549.70 336.23 L550.20 336.25 L550.70 336.27 L551.45 336.30 L552.20 336.31 L553.20 336.33 L554.45 336.34 L556.20 336.35 L558.95 336.37 L571.20 336.35 L572.70 336.34 L573.70 336.32 L574.70 336.30 L575.45 336.27 L576.20 336.23 L576.70 336.18 L576.95 336.14 L577.20 336.09 L577.45 336.03 L577.70 335.95 L577.95 335.83 L578.20 335.69 L578.45 335.51 L578.70 335.29 L578.95 335.03 L579.20 334.74 L579.45 334.42 L579.70 334.10 L579.95 333.79 L580.20 333.55 L580.45 333.42 L580.70 333.41 L580.95 333.53 L581.20 333.76 L581.45 334.05 L581.70 334.38 L581.95 334.70 L582.20 335.00 L582.45 335.26 L582.70 335.49 L582.95 335.67 L583.20 335.82 L583.45 335.93 L583.70 336.02 L583.95 336.09 L584.20 336.14 L584.70 336.20 L585.20 336.24 L585.70 336.27 L586.20 336.29 L586.95 336.31 L587.70 336.33 L588.70 336.34 L589.95 336.36 L591.95 336.37 L595.45 336.38 L607.70 336.39 L625.45 336.38 L628.70 336.37 L630.45 336.35 L631.70 336.34 L632.70 336.32 L633.45 336.30 L634.20 336.26 L634.70 336.22 L635.20 336.16 L635.45 336.11 L635.70 336.05 L635.95 335.98 L636.20 335.90 L636.45 335.79 L636.70 335.67 L636.95 335.53 L637.20 335.37 L637.70 335.02 L637.95 334.84 L638.20 334.67 L638.45 334.53 L638.70 334.44 L638.95 334.40 L639.20 334.42 L639.45 334.51 L639.70 334.64 L639.95 334.80 L640.45 335.15 L640.70 335.33 L640.95 335.49 L641.20 335.64 L641.45 335.76 L641.70 335.87 L641.95 335.97 L642.20 336.04 L642.45 336.10 L642.70 336.15 L643.20 336.22 L643.70 336.26 L644.20 336.29 L644.70 336.30 L645.45 336.32 L646.20 336.34 L647.20 336.35 L648.70 336.36 L650.95 336.38 L655.20 336.39" stroke="#22b422"/>
<path d="M47.20 374.89 L79.20 374.88 L92.95 374.87 L101.20 374.86 L106.70 374.85 L110.95 374.84 L114.20 374.82 L116.70 374.81 L118.95 374.80 L120.70 374.79 L122.45 374.77 L123.95 374.76 L125.20 374.75 L126.45 374.73 L127.45 374.72 L128.45 374.70 L129.45 374.68 L130.20 374.66 L130.95 374.64 L131.70 374.62 L132.45 374.60 L133.20 374.57 L133.95 374.54 L134.45 374.52 L134.95 374.50 L135.45 374.47 L135.95 374.44 L136.45 374.41 L136.95 374.37 L137.45 374.33 L137.95 374.29 L138.45 374.24 L138.95 374.18 L139.45 374.11 L139.95 374.04 L140.45 373.96 L140.95 373.86 L141.45 373.74 L141.95 373.60 L142.45 373.43 L142.70 373.33 L142.95 373.21 L143.20 373.08 L143.45 372.92 L143.70 372.74 L143.95 372.53 L144.20 372.28 L144.45 371.98 L144.70 371.64 L144.95 371.23 L145.20 370.75 L145.45 370.20 L145.70 369.55 L145.95 368.81 L146.20 367.96 L146.45 367.00 L146.70 365.93 L146.95 364.73 L147.20 363.43 L147.45 362.01 L147.70 360.50 L147.95 358.91 L148.20 357.26 L148.45 355.60 L148.70 353.96 L148.95 352.39 L149.20 350.95 L149.45 349.72 L149.70 348.77 L149.95 348.15 L150.20 347.90 L150.45 348.05 L150.70 348.59 L150.95 349.47 L151.20 350.65 L151.45 352.04 L151.70 353.58 L151.95 355.21 L152.20 356.88 L152.45 358.53 L152.70 360.14 L152.95 361.67 L153.20 363.11 L153.45 364.44 L153.70 365.66 L153.95 366.76 L154.20 367.75 L154.45 368.62 L154.70 369.39 L154.95 370.05 L155.20 370.63 L155.45 371.12 L155.70 371.55 L155.95 371.91 L156.20 372.21 L156.45 372.47 L156.70 372.69 L156.95 372.88 L157.20 373.04 L157.45 373.18 L157.70 373.30 L157.95 373.41 L158.20 373.50 L158.70 373.66 L159.20 373.79 L159.70 373.90 L160.20 373.99 L160.70 374.07 L161.20 374.14 L161.70 374.20 L162.20 374.26 L162.70 374.30 L163.20 374.35 L163.70 374.39 L164.20 374.42 L164.70 374.45 L165.20 374.48 L165.70 374.51 L166.20 374.53 L166.70 374.55 L167.20 374.57 L167.95 374.60 L168.70 374.62 L169.45 374.64 L170.20 374.66 L170.95 374.68 L171.70 374.69 L172.70 374.71 L173.70 374.73 L174.70 374.74 L175.95 374.75 L177.20 374.77 L178.70 374.78 L180.45 374.79 L182.45 374.81 L184.70 374.82 L187.45 374.83 L190.95 374.84 L195.45 374.85 L201.70 374.86 L211.20 374.87 L229.70 374.88 L313.95 374.87 L316.70 374.86 L318.45 374.84 L319.45 374.82 L320.20 374.80 L320.95 374.75 L321.45 374.69 L321.95 374.59 L322.45 374.46 L322.95 374.30 L323.45 374.12 L323.70 374.04 L323.95 373.96 L324.20 373.91 L324.45 373.88 L324.70 373.89 L324.95 373.92 L325.20 373.98 L325.70 374.15 L326.20 374.33 L326.70 374.48 L327.20 374.61 L327.70 374.69 L328.20 374.75 L328.70 374.79 L329.20 374.81 L329.95 374.83 L330.95 374.84 L332.45 374.85 L336.20 374.86 L350.45 374.85 L354.70 374.84 L357.70 374.83 L360.20 374.82 L362.20 374.80 L363.70 374.79 L365.20 374.78 L366.45 374.76 L367.45 374.75 L368.45 374.73 L369.45 374.71 L370.20 374.69 L370.95 374.67 L371.70 374.65 L372.45 374.62 L373.20 374.59 L373.70 374.57 L374.20 374.54 L374.70 374.51 L375.20 374.48 L375.70 374.44 L376.20 374.40 L376.70 374.35 L377.20 374.29 L377.70 374.22 L378.20 374.14 L378.70 374.04 L379.20 373.91 L379.45 373.83 L379.70 373.74 L379.95 373.63 L380.20 373.51 L380.45 373.36 L380.70 373.18 L380.95 372.98 L381.20 372.73 L381.45 372.44 L381.70 372.09 L381.95 371.69 L382.20 371.23 L382.45 370.69 L382.70 370.08 L382.95 369.39 L383.20 368.62 L383.45 367.77 L383.70 366.85 L383.95 365.86 L384.20 364.82 L384.45 363.75 L384.70 362.68 L384.95 361.62 L385.20 360.63 L385.45 359.75 L385.70 359.03 L385.95 358.51 L386.20 358.23 L386.45 358.23 L386.70 358.49 L386.95 358.99 L387.20 359.70 L387.45 360.58 L387.70 361.56 L387.95 362.61 L388.20 363.69 L388.45 364.76 L388.70 365.80 L388.95 366.79 L389.20 367.72 L389.45 368.57 L389.70 369.34 L389.95 370.04 L390.20 370.66 L390.45 371.20 L390.70 371.67 L390.95 372.07 L391.20 372.42 L391.45 372.71 L391.70 372.96 L391.95 373.17 L392.20 373.35 L392.45 373.50 L392.70 373.63 L392.95 373.73 L393.20 373.83 L393.45 373.91 L393.95 374.04 L394.45 374.14 L394.95 374.22 L395.45 374.29 L395.95 374.35 L396.45 374.40 L396.95 374.44 L397.45 374.48 L397.95 374.51 L398.45 374.54 L398.95 374.57 L399.45 374.59 L399.95 374.61 L400.45 374.63 L401.20 374.66 L401.95 374.68 L402.70 374.70 L403.45 374.71 L404.20 374.73 L405.20 374.75 L406.20 374.76 L407.45 374.78 L408.70 374.79 L410.20 374.80 L411.95 374.81 L413.95 374.83 L416.45 374.84 L419.70 374.85 L424.20 374.86 L430.95 374.87 L443.45 374.88 L512.20 374.87 L517.20 374.86 L520.70 374.85 L523.20 374.83 L524.95 374.82 L526.45 374.81 L527.70 374.79 L528.95 374.78 L529.95 374.76 L530.95 374.74 L531.70 374.72 L532.45 374.69 L533.20 374.66 L533.70 374.64 L534.20 374.62 L534.70 374.58 L535.20 374.55 L535.70 374.50 L536.20 374.44 L536.70 374.36 L537.20 374.25 L537.45 374.18 L537.70 374.10 L537.95 374.01 L538.20 373.89 L538.45 373.77 L538.70 373.62 L538.95 373.44 L539.20 373.25 L539.45 373.02 L539.70 372.77 L539.95 372.49 L540.20 372.18 L540.45 371.84 L540.70 371.48 L540.95 371.09 L541.20 370.68 L541.45 370.27 L541.70 369.84 L541.95 369.43 L542.20 369.03 L542.45 368.67 L542.70 368.36 L542.95 368.12 L543.20 367.96 L543.45 367.90 L543.70 367.93 L543.95 368.06 L544.20 368.27 L544.45 368.56 L544.70 368.91 L544.95 369.30 L545.20 369.71 L545.45 370.13 L545.70 370.55 L545.95 370.96 L546.20 371.35 L546.45 371.73 L546.70 372.07 L546.95 372.39 L547.20 372.68 L547.45 372.94 L547.70 373.18 L547.95 373.38 L548.20 373.56 L548.45 373.72 L548.70 373.85 L548.95 373.97 L549.20 374.07 L549.45 374.16 L549.70 374.23 L550.20 374.34 L550.70 374.43 L551.20 374.49 L551.70 374.54 L552.20 374.58 L552.70 374.61 L553.20 374.64 L553.70 374.66 L554.20 374.68 L554.95 374.71 L555.70 374.73 L556.45 374.75 L557.20 374.76 L558.20 374.78 L559.20 374.79 L560.45 374.81 L561.95 374.82 L563.70 374.83 L565.95 374.84 L568.95 374.86 L573.45 374.87 L581.45 374.88 L619.45 374.87 L622.70 374.85 L624.70 374.84 L626.20 374.83 L627.45 374.81 L628.45 374.80 L629.45 374.77 L630.20 374.75 L630.95 374.72 L631.45 374.70 L631.95 374.66 L632.45 374.61 L632.95 374.55 L633.45 374.45 L633.70 374.39 L633.95 374.31 L634.20 374.22 L634.45 374.12 L634.70 374.00 L634.95 373.86 L635.20 373.71 L635.45 373.53 L635.70 373.34 L635.95 373.13 L636.20 372.91 L636.70 372.44 L636.95 372.21 L637.20 371.98 L637.45 371.78 L637.70 371.61 L637.95 371.48 L638.20 371.41 L638.45 371.40 L638.70 371.45 L638.95 371.56 L639.20 371.71 L639.45 371.91 L639.70 372.13 L640.20 372.60 L640.70 373.06 L640.95 373.27 L641.20 373.47 L641.45 373.65 L641.70 373.81 L641.95 373.95 L642.20 374.08 L642.45 374.19 L642.70 374.28 L642.95 374.36 L643.20 374.43 L643.70 374.53 L644.20 374.60 L644.70 374.65 L645.20 374.69 L645.70 374.72 L646.20 374.74 L646.95 374.77 L647.70 374.78 L648.45 374.80 L649.45 374.82 L650.70 374.83 L652.20 374.84 L654.20 374.86 L655.20 374.86" stroke="#1a1a1a"/>
</g>
<line x1="151.20" y1="399.6" x2="151.20" y2="418.5" stroke="#111" stroke-width="2"/>
<line x1="325.76" y1="416.0" x2="325.76" y2="418.5" stroke="#111" stroke-width="2"/>
<line x1="387.79" y1="383.5" x2="387.79" y2="418.5" stroke="#111" stroke-width="2"/>
<line x1="543.49" y1="407.8" x2="543.49" y2="418.5" stroke="#111" stroke-width="2"/>
<line x1="638.98" y1="406.9" x2="638.98" y2="418.5" stroke="#111" stroke-width="2"/>
<line x1="322.35" y1="426.2" x2="322.35" y2="453" stroke="#1e1eff" stroke-width="2"/>
<line x1="362.00" y1="447.8" x2="362.00" y2="453" stroke="#1e1eff" stroke-width="2"/>
<line x1="397.52" y1="451.2" x2="397.52" y2="453" stroke="#1e1eff" stroke-width="2"/>
<line x1="448.37" y1="440.8" x2="448.37" y2="453" stroke="#1e1eff" stroke-width="2"/>
<line x1="495.20" y1="449.3" x2="495.20" y2="453" stroke="#1e1eff" stroke-width="2"/>
<line x1="553.83" y1="451.2" x2="553.83" y2="453" stroke="#1e1eff" stroke-width="2"/>
<line x1="580.96" y1="443.4" x2="580.96" y2="453" stroke="#1e1eff" stroke-width="2"/>
<g stroke="#111" stroke-width="2">
<line x1="46.2" y1="1.5" x2="656.4" y2="1.5"/>
<line x1="47.2" y1="0.5" x2="47.2" y2="462.5"/>
<line x1="655.4" y1="0.5" x2="655.4" y2="462.5"/>
<line x1="46.2" y1="418.5" x2="656.4" y2="418.5" stroke="#333"/>
<line x1="46.2" y1="453.2" x2="656.4" y2="453.2" stroke-width="2.4"/>
<line x1="47.20" y1="453" x2="47.20" y2="462.5"/>
<line x1="108.02" y1="453" x2="108.02" y2="458.0"/>
<line x1="168.84" y1="453" x2="168.84" y2="462.5"/>
<line x1="229.66" y1="453" x2="229.66" y2="458.0"/>
<line x1="290.48" y1="453" x2="290.48" y2="462.5"/>
<line x1="351.30" y1="453" x2="351.30" y2="458.0"/>
<line x1="412.12" y1="453" x2="412.12" y2="462.5"/>
<line x1="472.94" y1="453" x2="472.94" y2="458.0"/>
<line x1="533.76" y1="453" x2="533.76" y2="462.5"/>
<line x1="594.58" y1="453" x2="594.58" y2="458.0"/>
<line x1="655.40" y1="453" x2="655.40" y2="462.5"/>
</g>
<g font-weight="bold" font-size="24" fill="#111">
<text transform="translate(47.20,486.6) scale(0.965,1.02)" text-anchor="middle">10</text>
<text transform="translate(168.84,486.6) scale(0.965,1.02)" text-anchor="middle">20</text>
<text transform="translate(290.48,486.6) scale(0.965,1.02)" text-anchor="middle">30</text>
<text transform="translate(412.12,486.6) scale(0.965,1.02)" text-anchor="middle">40</text>
<text transform="translate(533.76,486.6) scale(0.965,1.02)" text-anchor="middle">50</text>
<text transform="translate(655.40,486.6) scale(0.965,1.02)" text-anchor="middle">60</text>
</g>
<g font-weight="bold" font-size="21" fill="#111">
<text x="62.0" y="124.2">(f)</text>
<text x="62.0" y="202.0">(e)</text>
<text x="62.0" y="256.0">(d)</text>
<text x="62.0" y="296.6">(c)</text>
<text x="62.0" y="327.0">(b)</text>
<text x="62.0" y="364.0">(a)</text>
</g>
<text x="56.4" y="397.1" font-size="21" fill="#222">PDF#44-1482 (Mg(OH)<tspan font-size="13" dy="6">2</tspan><tspan dy="-6">)</tspan></text>
<text x="56.4" y="441.8" font-size="21" fill="#2020f4">PDF#08-0479 (MgCO<tspan font-size="13" dy="6">3</tspan><tspan dy="-6">)</tspan></text>
<text transform="translate(239.0,525.8) scale(0.981,1)" font-size="34" font-weight="bold" fill="#111">2Theta (degree)</text>
<text transform="translate(23.5,330.4) rotate(-90) scale(0.964,1)" font-size="34" font-weight="bold" fill="#111">Intensity (a.u.)</text>
</svg>
</body></html>
